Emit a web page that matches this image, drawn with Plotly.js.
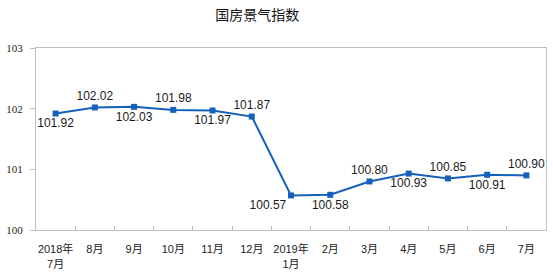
<!DOCTYPE html>
<html>
<head>
<meta charset="utf-8">
<script src="https://cdn.plot.ly/plotly-3.0.1.min.js"></script>
<style>html,body{margin:0;padding:0;background:#fff;}#chart{width:553px;height:275px;}</style>
</head>
<body>
<div id="chart"></div>
<script>
const categories = ["2018年<br>7月","8月","9月","10月","11月","12月","2019年<br>1月","2月","3月","4月","5月","6月","7月"];
const values = [101.92, 102.02, 102.03, 101.98, 101.97, 101.87, 100.57, 100.58, 100.80, 100.93, 100.85, 100.91, 100.90];
const valueLabels = ["101.92","102.02","102.03","101.98","101.97","101.87","100.57","100.58","100.80","100.93","100.85","100.91","100.90"];
const yTicks = [100, 101, 102, 103];

const labelPos = ["bottom center","top center","bottom center","top center","bottom center","top center","bottom left","bottom center","top center","bottom center","top center","bottom center","top center"];

const trace = {
  x: categories,
  y: values,
  type: "scatter",
  mode: "lines+markers+text",
  text: valueLabels,
  textposition: labelPos,
  textfont: {family: "Liberation Sans, Arial, sans-serif", size: 12, color: "#1a1a1a"},
  line: {color: "#1560BD", width: 2},
  marker: {symbol: "square", size: 6, color: "#1560BD"},
  cliponaxis: false,
  hoverinfo: "skip"
};

const layout = {
  width: 553, height: 275,
  margin: {l: 36, r: 7, t: 48, b: 45},
  paper_bgcolor: "#fff", plot_bgcolor: "#fff",
  showlegend: false,
  title: {
    text: "国房景气指数",
    font: {family: "Noto Sans CJK SC, sans-serif", size: 14, color: "#111"},
    x: 0.465, xanchor: "center", y: 0.945, yanchor: "middle"
  },
  xaxis: {
    type: "category",
    range: [-0.5, 12.5],
    showgrid: false, zeroline: false,
    showline: true, mirror: true, linecolor: "#bfbfbf", linewidth: 1,
    ticks: "inside", tickson: "boundaries", ticklen: 4, tickcolor: "#bfbfbf",
    tickfont: {family: "Liberation Sans, Noto Sans CJK SC, sans-serif", size: 11, color: "#222"},
    ticklabelstandoff: 9,
    tickangle: 0
  },
  yaxis: {
    range: [100, 103],
    tickvals: yTicks,
    ticktext: yTicks.map(String),
    showgrid: false, zeroline: false,
    showline: true, mirror: true, linecolor: "#bfbfbf", linewidth: 1,
    ticks: "outside", ticklen: 5, tickcolor: "#bfbfbf",
    tickfont: {family: "Liberation Serif, Times New Roman, serif", size: 11, color: "#222"},
    ticklabelstandoff: 5
  }
};

Plotly.newPlot("chart", [trace], layout, {displayModeBar: false, staticPlot: true});
</script>
</body>
</html>
